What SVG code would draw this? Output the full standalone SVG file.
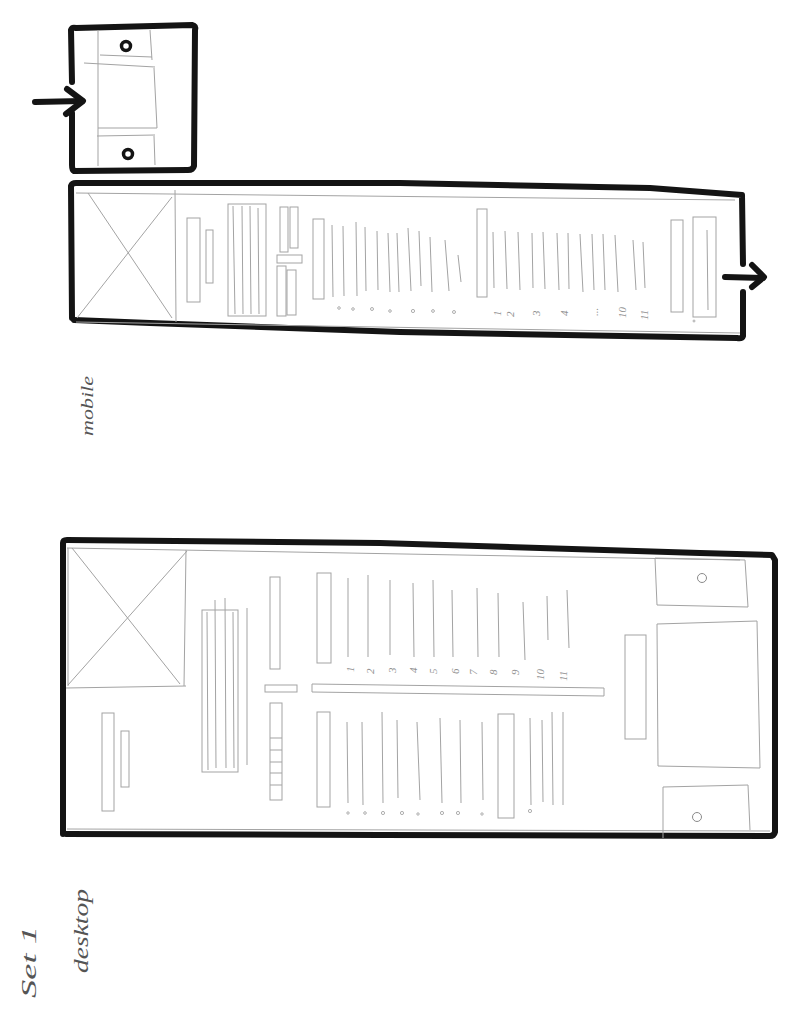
<svg xmlns="http://www.w3.org/2000/svg" width="791" height="1024" viewBox="0 0 791 1024">
<style>
.bg{fill:#ffffff}
.thick{fill:none;stroke:#141414;stroke-width:6;stroke-linecap:round;stroke-linejoin:round}
.thin{fill:none;stroke:#a3a3a3;stroke-width:1}
.dot{fill:none;stroke:#9a9a9a;stroke-width:0.8}
.ring{fill:#ffffff;stroke:#141414;stroke-width:3.5}
.ringthin{fill:none;stroke:#8a8a8a;stroke-width:1}
.num{font-family:"Liberation Serif",serif;font-style:italic;font-size:11px;fill:#8f8f8f}
.hand{font-family:"Liberation Serif",serif;font-style:italic;fill:#555555}
</style>
<rect class="bg" x="0" y="0" width="791" height="1024"/>

<g id="small-box">
  <path class="thick" d="M72,82 L71,30 Q72,27 76,28 L192,25 Q196,26 195,30 L194,166 Q193,170 188,170 L74,171 Q72,170 72,165 L72,113"/>
  <line class="thin" x1="98" y1="30" x2="98" y2="166"/>
  <line class="thin" x1="150" y1="30" x2="152" y2="60"/>
  <line class="thin" x1="154" y1="68" x2="157" y2="128"/>
  <line class="thin" x1="154" y1="136" x2="155" y2="165"/>
  <line class="thin" x1="100" y1="55" x2="152" y2="57"/>
  <line class="thin" x1="84" y1="63" x2="155" y2="67"/>
  <line class="thin" x1="98" y1="128" x2="157" y2="128"/>
  <line class="thin" x1="97" y1="136" x2="155" y2="135"/>
  <circle class="ring" cx="126" cy="46" r="4.5"/>
  <circle class="ring" cx="128" cy="154" r="4.5"/>
</g>

<g id="mobile">
  <path class="thick" d="M72,318 L71,186 Q72,183 76,183 L400,183 L650,188 L742,195 L743,264"/>
  <path class="thick" d="M743,292 L743,336 Q742,339 737,338 L400,332 L150,323 L74,320"/>
  <line class="thin" x1="76" y1="193" x2="735" y2="200"/>
  <line class="thin" x1="76" y1="322" x2="740" y2="333"/>
  <line class="thin" x1="175" y1="190" x2="176" y2="322"/>
  <line class="thin" x1="88" y1="193" x2="172" y2="318"/>
  <line class="thin" x1="172" y1="197" x2="77" y2="318"/>
  <rect class="thin" x="187" y="218" width="13" height="84"/>
  <rect class="thin" x="206" y="230" width="7" height="53"/>
  <rect class="thin" x="228" y="204" width="38" height="112"/>
  <line class="thin" x1="233" y1="206" x2="235" y2="314"/>
  <line class="thin" x1="242" y1="206" x2="243" y2="314"/>
  <line class="thin" x1="250" y1="206" x2="251" y2="314"/>
  <line class="thin" x1="258" y1="208" x2="259" y2="314"/>
  <rect class="thin" x="280" y="207" width="8" height="45"/>
  <rect class="thin" x="290" y="207" width="8" height="41"/>
  <rect class="thin" x="277" y="255" width="25" height="8"/>
  <rect class="thin" x="277" y="266" width="9" height="50"/>
  <rect class="thin" x="287" y="270" width="9" height="45"/>
  <rect class="thin" x="313" y="219" width="11" height="80"/>
  <g class="thin">
    <line x1="332" y1="225" x2="333" y2="297"/>
    <line x1="343" y1="226" x2="344" y2="296"/>
    <line x1="356" y1="222" x2="357" y2="296"/>
    <line x1="365" y1="227" x2="366" y2="291"/>
    <line x1="377" y1="231" x2="378" y2="290"/>
    <line x1="388" y1="233" x2="390" y2="292"/>
    <line x1="397" y1="233" x2="399" y2="292"/>
    <line x1="408" y1="228" x2="411" y2="291"/>
    <line x1="419" y1="231" x2="421" y2="286"/>
    <line x1="430" y1="237" x2="432" y2="292"/>
    <line x1="445" y1="240" x2="449" y2="291"/>
    <line x1="458" y1="255" x2="461" y2="282"/>
  </g>
  <g class="dot">
    <circle cx="339" cy="308" r="1.3"/><circle cx="353" cy="309" r="1.3"/><circle cx="372" cy="309" r="1.5"/>
    <circle cx="390" cy="311" r="1.3"/><circle cx="413" cy="311" r="1.6"/><circle cx="433" cy="311" r="1.4"/><circle cx="454" cy="312" r="1.5"/>
  </g>
  <rect class="thin" x="477" y="209" width="10" height="88"/>
  <g class="thin">
    <line x1="493" y1="232" x2="494" y2="288"/>
    <line x1="505" y1="231" x2="507" y2="289"/>
    <line x1="518" y1="232" x2="520" y2="290"/>
    <line x1="532" y1="233" x2="533" y2="288"/>
    <line x1="543" y1="232" x2="545" y2="289"/>
    <line x1="557" y1="233" x2="559" y2="290"/>
    <line x1="568" y1="233" x2="569" y2="289"/>
    <line x1="580" y1="234" x2="583" y2="292"/>
    <line x1="592" y1="234" x2="594" y2="290"/>
    <line x1="603" y1="234" x2="605" y2="290"/>
    <line x1="615" y1="235" x2="618" y2="292"/>
    <line x1="633" y1="240" x2="636" y2="290"/>
    <line x1="643" y1="242" x2="645" y2="288"/>
  </g>
  <g class="num">
    <text transform="translate(501,316) rotate(-90)">1</text>
    <text transform="translate(514,317) rotate(-90)">2</text>
    <text transform="translate(540,316) rotate(-90)">3</text>
    <text transform="translate(568,316) rotate(-90)">4</text>
    <text transform="translate(598,316) rotate(-90)">...</text>
    <text transform="translate(626,318) rotate(-90)">10</text>
    <text transform="translate(648,320) rotate(-90)">11</text>
  </g>
  <rect class="thin" x="671" y="220" width="12" height="92"/>
  <rect class="thin" x="693" y="217" width="23" height="100"/>
  <line class="thin" x1="707" y1="230" x2="708" y2="310"/>
  <circle class="dot" cx="694" cy="321" r="1"/>
</g>

<g id="desktop">
  <path class="thick" d="M63,834 L63,543 Q63,540 67,540 L380,543 L700,553 L772,555 L775,560 L775,832 Q774,836 770,836 L380,835 L66,834"/>
  <line class="thin" x1="67" y1="548" x2="740" y2="560"/>
  <line class="thin" x1="67" y1="829" x2="770" y2="831"/>
  <line class="thin" x1="68" y1="548" x2="68" y2="686"/>
  <line class="thin" x1="186" y1="550" x2="184" y2="686"/>
  <line class="thin" x1="66" y1="688" x2="186" y2="686"/>
  <line class="thin" x1="72" y1="548" x2="180" y2="684"/>
  <line class="thin" x1="187" y1="551" x2="68" y2="685"/>
  <rect class="thin" x="102" y="713" width="12" height="98"/>
  <rect class="thin" x="121" y="731" width="8" height="56"/>
  <rect class="thin" x="202" y="610" width="36" height="162"/>
  <line class="thin" x1="207" y1="612" x2="208" y2="770"/>
  <line class="thin" x1="215" y1="600" x2="216" y2="768"/>
  <line class="thin" x1="225" y1="598" x2="226" y2="768"/>
  <line class="thin" x1="233" y1="612" x2="234" y2="768"/>
  <line class="thin" x1="247" y1="608" x2="247" y2="765"/>
  <rect class="thin" x="270" y="577" width="10" height="92"/>
  <rect class="thin" x="265" y="685" width="32" height="7"/>
  <rect class="thin" x="270" y="703" width="12" height="97"/>
  <g class="thin">
    <line x1="270" y1="738" x2="282" y2="738"/>
    <line x1="270" y1="750" x2="282" y2="750"/>
    <line x1="270" y1="762" x2="282" y2="762"/>
    <line x1="270" y1="773" x2="282" y2="773"/>
    <line x1="270" y1="785" x2="282" y2="785"/>
  </g>
  <rect class="thin" x="317" y="573" width="14" height="90"/>
  <g class="thin">
    <line x1="348" y1="578" x2="348" y2="657"/>
    <line x1="368" y1="575" x2="368" y2="657"/>
    <line x1="390" y1="580" x2="390" y2="655"/>
    <line x1="413" y1="583" x2="414" y2="657"/>
    <line x1="433" y1="580" x2="434" y2="657"/>
    <line x1="452" y1="590" x2="453" y2="657"/>
    <line x1="477" y1="588" x2="478" y2="657"/>
    <line x1="498" y1="593" x2="499" y2="657"/>
    <line x1="523" y1="602" x2="525" y2="660"/>
    <line x1="547" y1="596" x2="548" y2="640"/>
    <line x1="567" y1="590" x2="569" y2="648"/>
  </g>
  <g class="num">
    <text transform="translate(354,672) rotate(-90)">1</text>
    <text transform="translate(374,674) rotate(-90)">2</text>
    <text transform="translate(396,673) rotate(-90)">3</text>
    <text transform="translate(417,673) rotate(-90)">4</text>
    <text transform="translate(437,674) rotate(-90)">5</text>
    <text transform="translate(459,674) rotate(-90)">6</text>
    <text transform="translate(477,675) rotate(-90)">7</text>
    <text transform="translate(497,675) rotate(-90)">8</text>
    <text transform="translate(519,675) rotate(-90)">9</text>
    <text transform="translate(544,680) rotate(-90)">10</text>
    <text transform="translate(567,681) rotate(-90)">11</text>
  </g>
  <path class="thin" d="M312,684 L604,688 L604,696 L312,692 Z"/>
  <rect class="thin" x="317" y="712" width="13" height="95"/>
  <g class="thin">
    <line x1="347" y1="722" x2="348" y2="803"/>
    <line x1="362" y1="722" x2="363" y2="805"/>
    <line x1="382" y1="712" x2="383" y2="803"/>
    <line x1="397" y1="720" x2="398" y2="798"/>
    <line x1="417" y1="722" x2="420" y2="800"/>
    <line x1="440" y1="718" x2="442" y2="803"/>
    <line x1="460" y1="720" x2="461" y2="803"/>
    <line x1="482" y1="722" x2="483" y2="800"/>
    <line x1="530" y1="718" x2="531" y2="805"/>
    <line x1="542" y1="720" x2="543" y2="802"/>
    <line x1="552" y1="712" x2="553" y2="805"/>
    <line x1="563" y1="712" x2="563" y2="805"/>
  </g>
  <rect class="thin" x="498" y="714" width="16" height="104"/>
  <g class="dot">
    <circle cx="348" cy="813" r="1.2"/><circle cx="365" cy="813" r="1.3"/><circle cx="383" cy="813" r="1.6"/>
    <circle cx="402" cy="813" r="1.6"/><circle cx="418" cy="814" r="1.2"/><circle cx="442" cy="813" r="1.6"/>
    <circle cx="458" cy="813" r="1.6"/><circle cx="482" cy="814" r="1.2"/><circle cx="530" cy="811" r="1.6"/>
  </g>
  <rect class="thin" x="625" y="635" width="21" height="104"/>
  <path class="thin" d="M655,558 L745,560 L748,607 L657,605 Z"/>
  <circle class="ringthin" cx="702" cy="578" r="4.5"/>
  <path class="thin" d="M657,624 L757,621 L760,768 L658,766 Z"/>
  <path class="thin" d="M663,838 L663,787 L748,785 L750,830"/>
  <circle class="ringthin" cx="697" cy="817" r="4.5"/>
</g>

<g id="connectors">
  <path class="thick" d="M35,102 L82,101"/>
  <path class="thick" d="M67,89 L83,101 L66,114"/>
  <path class="thick" d="M725,277 L763,278"/>
  <path class="thick" d="M752,265 L764,277 L752,287"/>
</g>

<g id="labels">
  <text class="hand" font-size="17" transform="translate(93,436) rotate(-90)" textLength="60" lengthAdjust="spacingAndGlyphs">mobile</text>
  <text class="hand" font-size="22" transform="translate(36,998) rotate(-90)" textLength="72" lengthAdjust="spacingAndGlyphs">Set 1</text>
  <text class="hand" font-size="20" transform="translate(88,973) rotate(-90)" textLength="84" lengthAdjust="spacingAndGlyphs">desktop</text>
</g>
</svg>
